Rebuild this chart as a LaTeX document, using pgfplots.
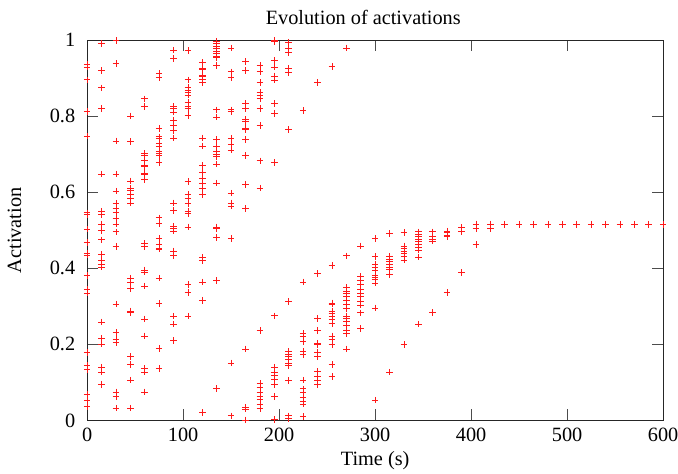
\documentclass[border=0pt]{standalone}
\usepackage{fontspec}
\setmainfont{Liberation Serif}
\usepackage{pgfplots}
\pgfplotsset{compat=1.18}
\usepackage{pgfplotstable}

% activation samples, one row per point (time in s, activation)
\pgfplotstableread{
t a
0 0.937
0 0.930
0 0.896
0 0.813
0 0.748
0 0.546
0 0.542
0 0.503
0 0.468
0 0.439
0 0.435
0 0.381
0 0.346
0 0.335
0 0.179
0 0.145
0 0.134
0 0.069
0 0.053
0 0.037
15 0.992
15 0.921
15 0.875
15 0.821
15 0.648
15 0.549
15 0.542
15 0.517
15 0.500
15 0.475
15 0.436
15 0.422
15 0.411
15 0.403
15 0.259
15 0.215
15 0.201
15 0.140
15 0.127
15 0.095
30 1.000
30 0.939
30 0.735
30 0.648
30 0.603
30 0.570
30 0.558
30 0.546
30 0.531
30 0.517
30 0.496
30 0.457
30 0.306
30 0.231
30 0.214
30 0.205
30 0.075
30 0.063
30 0.032
45 0.801
45 0.733
45 0.630
45 0.611
45 0.604
45 0.594
45 0.584
45 0.572
45 0.374
45 0.363
45 0.347
45 0.288
45 0.284
45 0.168
45 0.147
45 0.106
45 0.032
60 0.846
60 0.826
60 0.702
60 0.698
60 0.683
60 0.672
60 0.668
60 0.650
60 0.646
60 0.633
60 0.465
60 0.457
60 0.396
60 0.390
60 0.353
60 0.267
60 0.222
60 0.136
60 0.127
60 0.075
75 0.913
75 0.902
75 0.768
75 0.746
75 0.742
75 0.729
75 0.720
75 0.709
75 0.702
75 0.696
75 0.679
75 0.533
75 0.518
75 0.479
75 0.464
75 0.453
75 0.451
75 0.374
75 0.307
75 0.189
75 0.136
90 0.974
90 0.952
90 0.826
90 0.820
90 0.811
90 0.789
90 0.776
90 0.763
90 0.743
90 0.572
90 0.552
90 0.511
90 0.505
90 0.498
90 0.446
90 0.433
90 0.274
90 0.253
90 0.210
105 0.973
105 0.896
105 0.876
105 0.867
105 0.863
105 0.856
105 0.837
105 0.827
105 0.820
105 0.802
105 0.629
105 0.594
105 0.584
105 0.570
105 0.549
105 0.544
105 0.509
105 0.358
105 0.336
105 0.274
120 0.941
120 0.926
120 0.924
120 0.908
120 0.904
120 0.898
120 0.889
120 0.743
120 0.722
120 0.670
120 0.652
120 0.636
120 0.624
120 0.611
120 0.594
120 0.429
120 0.420
120 0.364
120 0.316
120 0.021
135 0.998
135 0.992
135 0.985
135 0.978
135 0.972
135 0.965
135 0.959
135 0.954
135 0.933
135 0.817
135 0.798
135 0.739
135 0.722
135 0.709
135 0.700
135 0.694
135 0.674
135 0.624
135 0.509
135 0.504
135 0.481
135 0.368
135 0.084
150 0.980
150 0.917
150 0.902
150 0.817
150 0.813
150 0.742
150 0.726
150 0.711
150 0.598
150 0.572
150 0.564
150 0.478
150 0.151
150 0.012
165 0.944
165 0.920
165 0.833
165 0.820
165 0.792
165 0.787
165 0.769
165 0.765
165 0.739
165 0.697
165 0.620
165 0.558
165 0.188
165 0.034
165 0.030
165 0.001
180 0.933
180 0.918
180 0.889
180 0.863
180 0.856
180 0.846
180 0.820
180 0.776
180 0.683
180 0.611
180 0.236
180 0.097
180 0.086
180 0.075
180 0.064
180 0.054
180 0.043
180 0.031
195 1.000
195 0.996
195 0.947
195 0.930
195 0.906
195 0.895
195 0.833
195 0.808
195 0.678
195 0.275
195 0.140
195 0.127
195 0.118
195 0.108
195 0.095
195 0.063
195 0.002
210 0.995
210 0.980
210 0.967
210 0.926
210 0.915
210 0.765
210 0.313
210 0.181
210 0.175
210 0.168
210 0.161
210 0.151
210 0.144
210 0.105
210 0.012
210 0.005
225 0.815
225 0.364
225 0.229
225 0.222
225 0.207
225 0.181
225 0.173
225 0.106
225 0.083
225 0.073
225 0.060
225 0.051
225 0.043
225 0.010
240 0.889
240 0.387
240 0.268
240 0.236
240 0.203
240 0.199
240 0.179
240 0.168
240 0.128
240 0.116
240 0.105
240 0.095
255 0.931
255 0.407
255 0.309
255 0.306
255 0.288
255 0.281
255 0.273
255 0.266
255 0.254
255 0.222
255 0.212
255 0.199
255 0.147
255 0.116
270 0.980
270 0.433
270 0.349
270 0.340
270 0.333
270 0.325
270 0.316
270 0.306
270 0.294
270 0.274
270 0.268
270 0.260
270 0.251
270 0.238
270 0.229
270 0.188
285 0.459
285 0.378
285 0.368
285 0.358
285 0.346
285 0.335
285 0.325
285 0.314
285 0.303
285 0.283
285 0.241
300 0.478
300 0.431
300 0.411
300 0.403
300 0.396
300 0.381
300 0.375
300 0.370
300 0.361
300 0.296
300 0.053
315 0.491
315 0.431
315 0.424
315 0.418
315 0.411
315 0.403
315 0.397
315 0.383
315 0.127
330 0.494
330 0.459
330 0.453
330 0.446
330 0.439
330 0.431
330 0.422
330 0.199
345 0.496
345 0.490
345 0.483
345 0.476
345 0.470
345 0.463
345 0.455
345 0.448
345 0.430
345 0.253
360 0.496
360 0.485
360 0.476
360 0.472
360 0.284
375 0.498
375 0.494
375 0.487
375 0.483
375 0.337
390 0.507
390 0.496
390 0.389
405 0.517
405 0.504
405 0.463
420 0.517
420 0.504
435 0.516
450 0.516
465 0.516
480 0.516
495 0.516
510 0.516
525 0.516
540 0.516
555 0.516
570 0.516
585 0.516
600 0.516
}\activations

\begin{document}
\fontsize{20.5}{24}\selectfont
\begin{tikzpicture}
\begin{axis}[
    scale only axis,
    width=582pt, height=384pt,
    xmin=0, xmax=600, ymin=0, ymax=1,
    xtick={0,100,...,600},
    ytick={0,0.2,0.4,0.6,0.8,1},
    tick align=inside,
    major tick length=11pt,
    tick style={black!70, line width=0.8pt},
    axis line style={line width=1.2pt, black!85},
    /pgf/number format/assume math mode=true,
    yticklabel style={/pgf/number format/fixed, xshift=-5pt},
    xticklabel style={yshift=-1pt, inner xsep=0pt},
    tick label style={font=\fontsize{20.5}{24}\selectfont},
    label style={font=\fontsize{20.5}{24}\selectfont},
    title style={font=\fontsize{20.5}{24}\selectfont, yshift=3pt, xshift=-12pt},
    title={Evolution of activations},
    xlabel={Time (s)},
    ylabel={Activation},
    xlabel style={yshift=4pt},
    ylabel style={yshift=15pt},
  ]
  \addplot[only marks, mark=+, mark size=3.3pt, red!90!white, line width=0.7pt]
    table[x=t, y=a] {\activations};
\end{axis}
% page frame: same margins around the axis box as the reference
\pgfresetboundingbox
\path[use as bounding box]
  ([xshift=-88pt, yshift=-54pt]current axis.south west) rectangle
  ([xshift=15pt, yshift=40.7pt]current axis.north east);
\end{tikzpicture}
\end{document}
